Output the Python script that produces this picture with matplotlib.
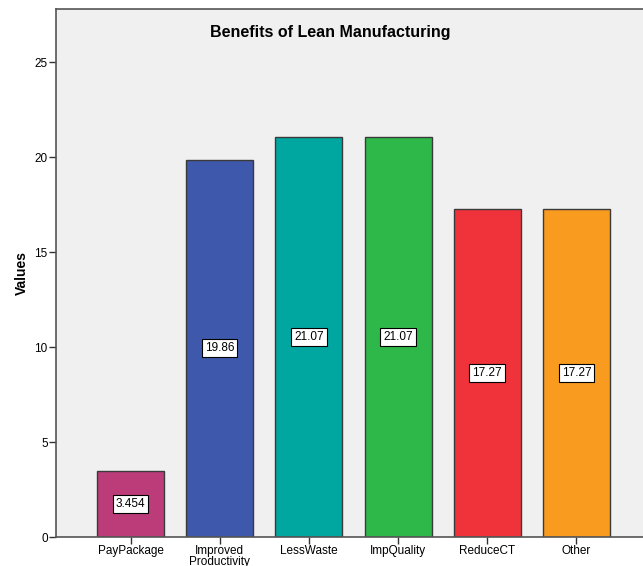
import matplotlib.pyplot as plt

plt.rcParams['font.family'] = ['Liberation Sans', 'DejaVu Sans']

categories = ['PayPackage', 'Improved\nProductivity', 'LessWaste', 'ImpQuality', 'ReduceCT', 'Other']
values = [3.454, 19.86, 21.07, 21.07, 17.27, 17.27]
labels = ['3.454', '19.86', '21.07', '21.07', '17.27', '17.27']
colors = ['#bc3c7a', '#3e58ac', '#00a6a0', '#2fb84a', '#f0323a', '#f99b1f']

W, H = 643, 566
fig = plt.figure(figsize=(W / 100, H / 100), dpi=100)
ax = fig.add_axes([56 / W, 29 / H, 595 / W, 528 / H])
ax.set_facecolor('#f0f0f0')

x = range(len(categories))
ax.bar(x, values, width=0.75, color=colors, edgecolor='#3a3a3a', linewidth=1.0)

# value boxes sit at half the bar height
for i, (v, s) in enumerate(zip(values, labels)):
    ax.text(i, v / 2, s, ha='center', va='center', fontsize=8.5,
            bbox=dict(boxstyle='square,pad=0.25', fc='white', ec='black', lw=0.8))

ax.set_xlim(-0.837, 5.837)
ax.set_ylim(0, 27.8)
ax.set_yticks([0, 5, 10, 15, 20, 25])
ax.set_xticks(list(x))
ax.set_xticklabels(categories, fontsize=8.5, linespacing=0.8)
ax.tick_params(axis='both', direction='out', length=5, width=1, color='#333333', labelsize=8.5, pad=1)
for sp in ax.spines.values():
    sp.set_color('#555555')
    sp.set_linewidth(1.2)

ax.set_ylabel('Values', fontsize=10, fontweight='bold', labelpad=4)
fig.text(330 / W, 1 - 33 / H, 'Benefits of Lean Manufacturing', ha='center', va='center',
         fontsize=11.5, fontweight='bold')

fig.savefig('out.png', dpi=100)
